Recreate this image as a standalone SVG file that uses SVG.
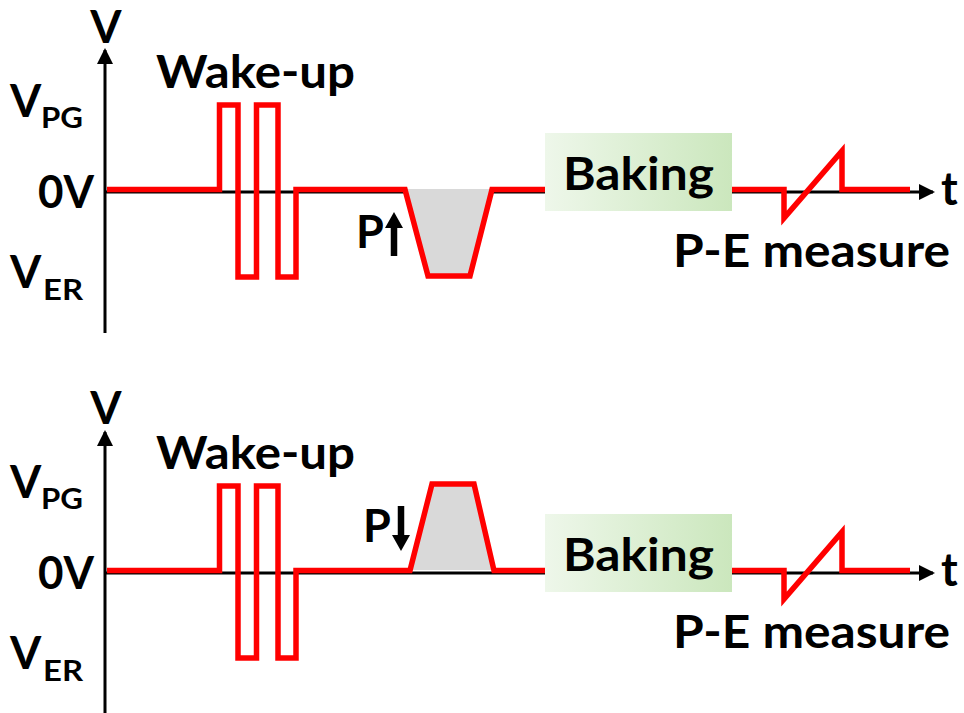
<svg xmlns="http://www.w3.org/2000/svg" width="964" height="713" viewBox="0 0 964 713">
  <defs>
    <linearGradient id="bakeFill" x1="0" y1="0" x2="1" y2="0">
      <stop offset="0" stop-color="#eef7ea"/>
      <stop offset="1" stop-color="#cbe7bd"/>
    </linearGradient>
    <marker id="axisHead" viewBox="0 0 16 16" refX="14" refY="8" markerWidth="16" markerHeight="16" markerUnits="userSpaceOnUse" orient="auto">
      <path d="M0,0 L16,8 L0,16 Z" fill="#000"/>
    </marker>
  </defs>
  <style>
    text { font-family: Lato, "Open Sans", "Liberation Sans", sans-serif; font-weight: bold; fill: #000; }
    .lbl { font-size: 45px; }
    .sub { font-size: 28px; }
    .axis { stroke: #000; stroke-width: 3; fill: none; marker-end: url(#axisHead); }
    .wave { stroke: #ff0000; stroke-width: 5.5; fill: none; stroke-linejoin: miter; }
    .pulse { fill: #d9d9d9; stroke: none; }
    .pshaft { stroke: #000; stroke-width: 6.5; }
    .phead { fill: #000; }
    .bake { fill: url(#bakeFill); }
  </style>

  <!-- upper sequence: P-up state written -->
  <g id="panel-up">
    <g id="axes-up">
      <line class="axis" x1="105" y1="333" x2="105" y2="50"/>
      <line class="axis" x1="105" y1="192" x2="933" y2="192"/>
    </g>
    <text class="lbl" x="106" y="43" text-anchor="middle">V</text>
    <text class="lbl" x="941" y="205">t</text>
    <g id="levels-up">
      <text class="lbl" x="10" y="117">V</text><text class="sub" x="41" y="128" textLength="42" lengthAdjust="spacingAndGlyphs">PG</text>
      <text class="lbl" x="38" y="208" textLength="56" lengthAdjust="spacingAndGlyphs">0V</text>
      <text class="lbl" x="10" y="288">V</text><text class="sub" x="43" y="300" textLength="40" lengthAdjust="spacingAndGlyphs">ER</text>
    </g>
    <text id="wake-up" class="lbl" x="156" y="88" textLength="199" lengthAdjust="spacingAndGlyphs">Wake-up</text>
    <polygon class="pulse" points="405,189 428,276 470,276 492,189"/>
    <g id="bake-up">
      <rect class="bake" x="545" y="133" width="187" height="78"/>
      <text class="lbl" x="563" y="190" textLength="151" lengthAdjust="spacingAndGlyphs">Baking</text>
    </g>
    <polyline class="wave" points="107,189.5 219.5,189.5 219.5,105 238,105 238,277 256.5,277 256.5,105 278,105 278,277 296,277 296,189.5 405,189.5 428,276 470,276 492,189.5 545,189.5"/>
    <polyline class="wave" points="732,189.5 784,189.5 784,218 842,151 842,189.5 910,189.5"/>
    <g id="p-up">
      <text class="lbl" x="356" y="248">P</text>
      <line class="pshaft" x1="394" y1="256" x2="394" y2="225"/>
      <polygon class="phead" points="394,212 403,228 385,228"/>
    </g>
    <text id="pe-up" class="lbl" x="673" y="267" textLength="277" lengthAdjust="spacingAndGlyphs">P-E measure</text>
  </g>

  <!-- lower sequence: P-down state written -->
  <g id="panel-down">
    <g id="axes-down">
      <line class="axis" x1="105" y1="713" x2="105" y2="432"/>
      <line class="axis" x1="105" y1="573" x2="933" y2="573"/>
    </g>
    <text class="lbl" x="106" y="424" text-anchor="middle">V</text>
    <text class="lbl" x="941" y="586">t</text>
    <g id="levels-down">
      <text class="lbl" x="10" y="498">V</text><text class="sub" x="41" y="509" textLength="42" lengthAdjust="spacingAndGlyphs">PG</text>
      <text class="lbl" x="38" y="589" textLength="56" lengthAdjust="spacingAndGlyphs">0V</text>
      <text class="lbl" x="10" y="669">V</text><text class="sub" x="43" y="681" textLength="40" lengthAdjust="spacingAndGlyphs">ER</text>
    </g>
    <text id="wake-up-2" class="lbl" x="156" y="469" textLength="199" lengthAdjust="spacingAndGlyphs">Wake-up</text>
    <polygon class="pulse" points="410,570 432,484 474,484 494,570"/>
    <g id="bake-down">
      <rect class="bake" x="545" y="514" width="187" height="78"/>
      <text class="lbl" x="563" y="571" textLength="151" lengthAdjust="spacingAndGlyphs">Baking</text>
    </g>
    <polyline class="wave" points="107,570.5 219.5,570.5 219.5,486 238,486 238,658 256.5,658 256.5,486 278,486 278,658 296,658 296,570.5 410,570.5 432,484 474,484 494,570.5 545,570.5"/>
    <polyline class="wave" points="732,570.5 784,570.5 784,599 842,532 842,570.5 910,570.5"/>
    <g id="p-down">
      <text class="lbl" x="363" y="542">P</text>
      <line class="pshaft" x1="401" y1="506" x2="401" y2="537"/>
      <polygon class="phead" points="401,551 410,535 392,535"/>
    </g>
    <text id="pe-down" class="lbl" x="673" y="648" textLength="277" lengthAdjust="spacingAndGlyphs">P-E measure</text>
  </g>
</svg>
